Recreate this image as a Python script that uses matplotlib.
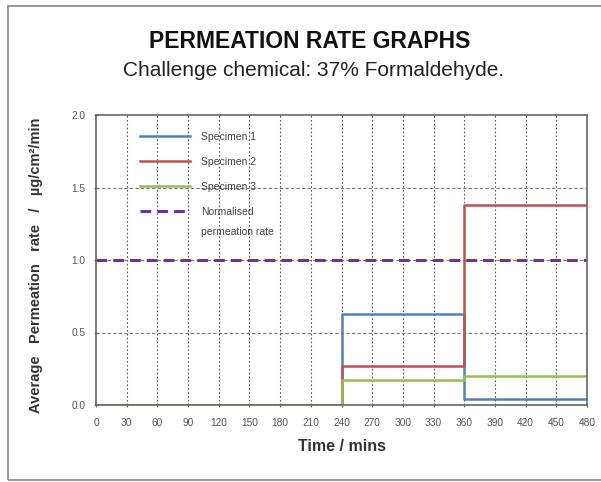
import matplotlib.pyplot as plt
from matplotlib.patches import Rectangle

plt.rcParams['font.family'] = ['Liberation Sans', 'DejaVu Sans']

# step boundaries (mins) and the rate in each interval
times = [0, 240, 360, 480]
specimen_1 = [0.0, 0.63, 0.04]
specimen_2 = [0.0, 0.27, 1.38]
specimen_3 = [0.0, 0.17, 0.20]
normalised = 1.0

x_ticks = list(range(0, 481, 30))
y_ticks = [0.0, 0.5, 1.0, 1.5, 2.0]


def main():
  fig = plt.figure(figsize=(6.01, 4.82), dpi=100)
  fig.patches.append(Rectangle((8 / 601, 2 / 482), 1.0, 474 / 482, transform=fig.transFigure,
                               fill=False, edgecolor='#888888', linewidth=1.2))

  fig.text(310 / 601, 1 - 41 / 482, 'PERMEATION RATE GRAPHS', ha='center', va='center',
           fontsize=16.5, fontweight='bold', color='#111111')
  fig.text(314 / 601, 1 - 71 / 482, 'Challenge chemical: 37% Formaldehyde.', ha='center', va='center',
           fontsize=15, color='#222222')

  ax = fig.add_axes([96 / 601, 77 / 482, 491 / 601, 290 / 482])

  series = [
    (specimen_1, '#4f81bd', 'Specimen 1'),
    (specimen_2, '#c0504d', 'Specimen 2'),
    (specimen_3, '#9bbb59', 'Specimen 3'),
  ]
  for vals, color, label in series:
    ax.step(times, vals + [vals[-1]], where='post', color=color, linewidth=1.8, label=label)
  ax.plot([times[0], times[-1]], [normalised, normalised], color='#7030a0', linewidth=2.2,
          linestyle=(0, (3.5, 2)), label='Normalised')

  ax.set_xlim(0, 480)
  ax.set_ylim(0, 2.0)
  ax.set_xticks(x_ticks)
  ax.set_yticks(y_ticks)
  ax.set_yticklabels([f'{v:.1f}' for v in y_ticks])
  ax.tick_params(labelsize=7.3, labelcolor='#555555', length=3, direction='inout', color='#666666')
  ax.tick_params(axis='x', pad=8)
  ax.tick_params(axis='y', pad=6)

  for x in x_ticks[1:-1]:
    ax.axvline(x, color='#555555', linewidth=0.8, linestyle=(0, (1.5, 2)), zorder=0)
  for y in y_ticks[1:-1]:
    ax.axhline(y, color='#777777', linewidth=0.8, linestyle=(0, (3, 2)), zorder=0)

  for side in ax.spines.values():
    side.set_color('#666666')
    side.set_linewidth(1.2)

  ax.set_xlabel('Time / mins', fontsize=11.5, fontweight='bold', color='#333333')
  ax.xaxis.set_label_coords(0.5, -34 / 290)
  ax.set_ylabel('Average   Permeation   rate   /   µg/cm²/min', fontsize=10.5, fontweight='bold',
                color='#333333')
  ax.yaxis.set_label_coords(-53 / 491, 0.48)

  leg = ax.legend(loc='upper left', bbox_to_anchor=(0.07, 0.975), frameon=False, fontsize=7.5,
                  handlelength=4.8, handletextpad=1.1, labelspacing=1.45, labelcolor='#444444')
  # second line of the last legend entry sits below it, like the original
  last = leg.get_texts()[-1]
  ax.annotate('permeation rate', xy=(0, 0), xycoords=last, xytext=(0, -7),
              textcoords='offset points', ha='left', va='top', fontsize=7.5, color='#444444',
              zorder=6)

  plt.savefig('out.png', dpi=100)


if __name__ == '__main__':
  main()
